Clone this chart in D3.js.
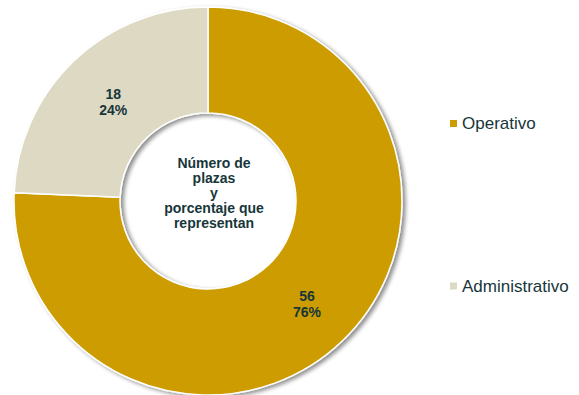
<!DOCTYPE html>
<html>
<head>
<meta charset="utf-8">
<script src="https://cdn.jsdelivr.net/npm/d3@7"></script>
<style>
  html, body { margin: 0; padding: 0; background: #ffffff; }
  svg { display: block; }
</style>
</head>
<body>
<script>
const categories = ["Operativo", "Administrativo"];
const values = [56, 18];
const percentLabels = ["76%", "24%"];
const centerLines = ["Número de", "plazas", "y", "porcentaje que", "representan"];

const W = 579, H = 395;
const cx = 208, cy = 201, outerR = 194, innerR = 88;
const textColor = "#17363a";
const fontFam = "'Liberation Sans', Arial, sans-serif";

const color = d3.scaleOrdinal().domain(categories).range(["#cc9c00", "#ddd9c3"]);

const svg = d3.select("body").append("svg").attr("width", W).attr("height", H);

const defs = svg.append("defs");
const f = defs.append("filter").attr("id", "shadow")
  .attr("x", "-10%").attr("y", "-10%").attr("width", "120%").attr("height", "120%");
f.append("feGaussianBlur").attr("in", "SourceAlpha").attr("stdDeviation", 2).attr("result", "blur");
f.append("feOffset").attr("in", "blur").attr("dx", 3).attr("dy", 2).attr("result", "off");
f.append("feComponentTransfer").attr("in", "off").attr("result", "sh")
  .append("feFuncA").attr("type", "linear").attr("slope", 0.45);
const m = f.append("feMerge");
m.append("feMergeNode").attr("in", "sh");
m.append("feMergeNode").attr("in", "SourceGraphic");

const data = categories.map((c, i) => ({ cat: c, value: values[i], pct: percentLabels[i] }));

const pie = d3.pie().value(d => d.value).sort(null);
const arc = d3.arc().innerRadius(innerR).outerRadius(outerR);

const g = svg.append("g").attr("transform", `translate(${cx},${cy})`);
const arcs = pie(data);

g.append("g").attr("filter", "url(#shadow)")
  .selectAll("path").data(arcs).join("path")
  .attr("d", arc)
  .attr("fill", d => color(d.data.cat))
  .attr("stroke", "#ffffff")
  .attr("stroke-width", 1.5);

// slice labels
const labelR = [143, 137];
arcs.forEach((a, i) => {
  const mid = (a.startAngle + a.endAngle) / 2;
  const rr = labelR[i];
  const x = Math.sin(mid) * rr;
  const y = -Math.cos(mid) * rr;
  const t = g.append("text")
    .attr("text-anchor", "middle")
    .attr("font-family", fontFam)
    .attr("font-weight", "bold")
    .attr("font-size", 14)
    .attr("fill", textColor);
  t.append("tspan").attr("x", x).attr("y", y - 3).text(a.data.value);
  t.append("tspan").attr("x", x).attr("y", y + 13).text(a.data.pct);
});

// center text
const ct = svg.append("text")
  .attr("text-anchor", "middle")
  .attr("font-family", fontFam)
  .attr("font-weight", "bold")
  .attr("font-size", 14)
  .attr("fill", textColor);
centerLines.forEach((l, i) => {
  ct.append("tspan").attr("x", 214).attr("y", 167.5 + i * 15).text(l);
});

// legend
const legendY = d3.scalePoint().domain(categories).range([123.5, 286]);
const lg = svg.append("g").selectAll("g").data(categories).join("g")
  .attr("transform", d => `translate(450,${legendY(d)})`);
lg.append("rect").attr("x", 0).attr("y", -3.5).attr("width", 7).attr("height", 7)
  .attr("fill", d => color(d));
lg.append("text").attr("x", 12).attr("y", 5.5)
  .attr("font-family", fontFam)
  .attr("font-size", 17)
  .attr("fill", textColor)
  .text(d => d);
</script>
</body>
</html>
